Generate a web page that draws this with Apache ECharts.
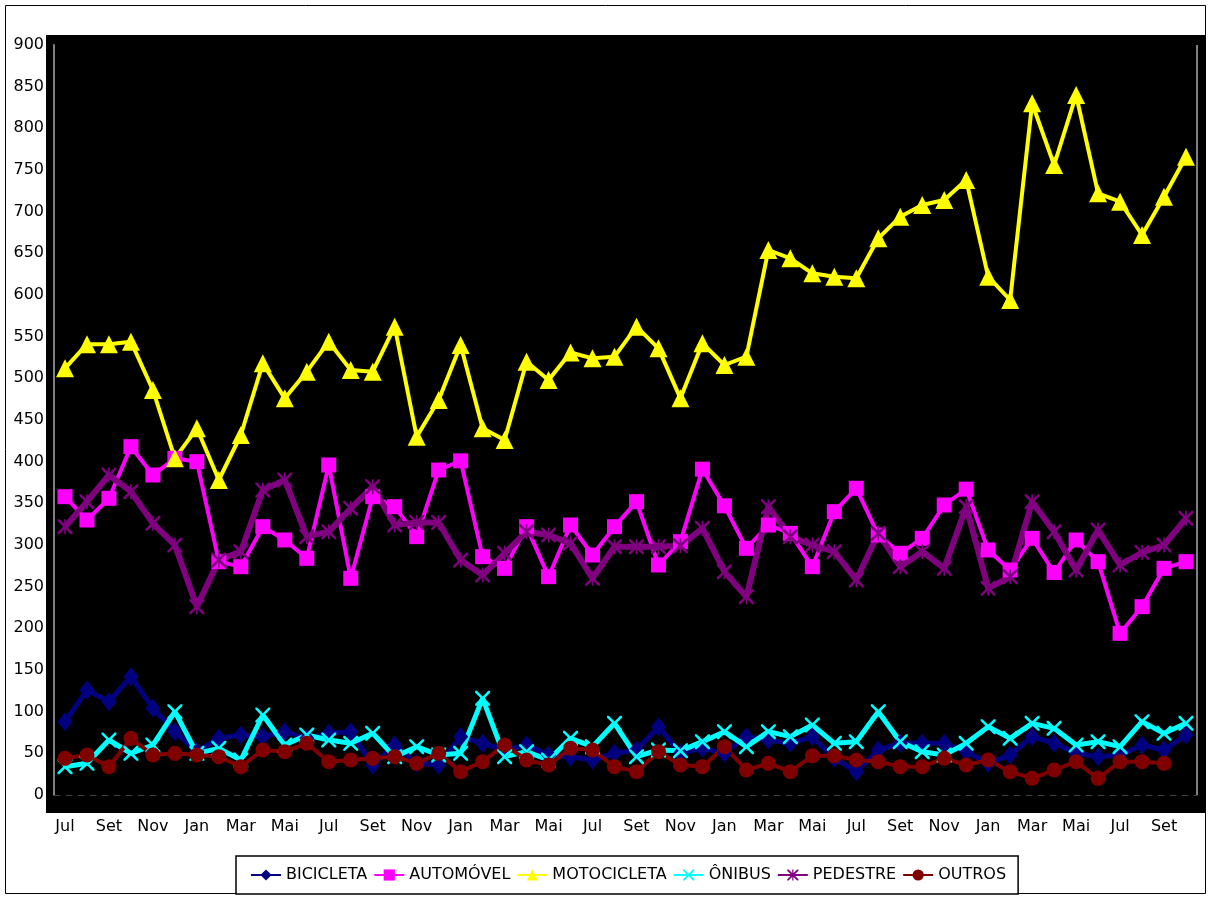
<!DOCTYPE html>
<html>
<head>
<meta charset="utf-8">
<script src="https://cdn.jsdelivr.net/npm/echarts@6/dist/echarts.min.js"></script>
<style>
  html, body { margin: 0; padding: 0; background: #fff; }
  #chart { width: 1211px; height: 899px; }
</style>
</head>
<body>
<div id="chart"></div>
<script>
// Monthly categories, July through October four years later (52 months)
const monthCycle = ['Jul','Ago','Set','Out','Nov','Dez','Jan','Fev','Mar','Abr','Mai','Jun'];
const months = [];
for (let i = 0; i < 52; i++) months.push(monthCycle[i % 12]);

const bicicleta = [88,126,112,142,104,76,52,68,72,70,76,68,74,
                   76,36,60,38,36,70,62,54,60,48,46,42,50,
                   54,82,50,56,50,70,66,62,70,44,28,54,62,
                   62,62,52,38,48,70,62,50,46,48,60,54,72];
const automovel = [358,330,356,418,384,404,400,280,274,322,306,284,396,
                   260,358,346,310,390,401,286,272,322,262,324,288,322,
                   352,276,304,391,347,296,324,314,274,340,368,312,290,
                   308,348,367,294,270,308,267,306,280,194,226,272,280];
const motocicleta = [512,541,541,544,486,404,440,378,432,518,476,508,544,
                     510,508,562,430,474,540,440,426,520,498,531,524,526,
                     562,536,476,542,516,526,654,644,626,622,620,668,694,
                     708,714,738,622,594,830,756,840,722,712,672,718,766];
const onibus = [34,38,66,50,60,100,50,56,42,96,60,72,66,
                62,74,46,58,48,50,116,46,52,42,68,58,86,
                46,54,53,64,76,58,76,70,84,62,64,100,64,
                52,48,62,82,68,86,80,60,64,58,88,74,86];
const pedestre = [322,352,384,364,326,300,226,282,292,366,378,310,316,
                  344,370,324,327,327,282,264,290,316,312,302,260,298,
                  298,298,299,320,268,238,346,310,300,292,258,314,274,
                  292,272,346,248,262,352,316,270,318,276,291,300,332];
const outros = [44,48,34,68,48,50,48,46,34,54,52,62,40,
                42,44,46,38,50,28,40,60,42,36,56,54,34,
                28,52,36,34,58,30,38,28,47,47,42,40,34,
                34,44,36,42,28,20,30,40,20,40,40,38];

const yTicks = { min: 0, max: 900, step: 50 };

const FONT = '"DejaVu Sans", sans-serif';

// thin cross and asterisk markers
const crossPath = 'path://M0,0L1.2,0L5,3.8L8.8,0L10,0L10,1.2L6.2,5L10,8.8L10,10L8.8,10L5,6.2L1.2,10L0,10L0,8.8L3.8,5L0,1.2Z';
const starPath = 'path://M0,0L1.2,0L5,3.8L8.8,0L10,0L10,1.2L6.2,5L10,8.8L10,10L8.8,10L5,6.2L1.2,10L0,10L0,8.8L3.8,5L0,1.2Z' +
                 'M4.45,0L5.55,0L5.55,10L4.45,10Z';

function lineSeries(name, data, color, symbol, symbolSize, width) {
  return {
    name: name,
    type: 'line',
    data: data,
    symbol: symbol,
    symbolSize: symbolSize,
    showAllSymbol: true,
    lineStyle: { color: color, width: width },
    itemStyle: { color: color, borderWidth: 0 },
    emphasis: { disabled: true },
    animation: false
  };
}

const chart = echarts.init(document.getElementById('chart'), null, { renderer: 'canvas' });

chart.setOption({
  backgroundColor: '#ffffff',
  animation: false,
  graphic: [
    // black chart panel behind the plot
    { type: 'rect', z: -10, silent: true,
      shape: { x: 46, y: 35, width: 1160, height: 778 },
      style: { fill: '#000000' } },
    // outer frame
    { type: 'rect', z: -20, silent: true,
      shape: { x: 5.5, y: 5.5, width: 1200, height: 888 },
      style: { fill: '#ffffff', stroke: '#000000', lineWidth: 1 } },
    // right edge of plot
    { type: 'line', z: 5, silent: true,
      shape: { x1: 1197, y1: 45, x2: 1197, y2: 795 },
      style: { stroke: '#808080', lineWidth: 2 } }
  ],
  grid: { left: 54, right: 14, top: 45, bottom: 104, containLabel: false },
  legend: {
    bottom: 5,
    left: 236,
    backgroundColor: '#ffffff',
    borderColor: '#000000',
    borderWidth: 1.5,
    borderRadius: 0,
    padding: [11, 12, 11, 14],
    itemGap: 6,
    itemWidth: 30,
    itemHeight: 14,
    textStyle: { color: '#000000', fontSize: 16, fontFamily: FONT },
    selectedMode: false
  },
  xAxis: {
    type: 'category',
    data: months,
    boundaryGap: true,
    axisLine: { show: true, lineStyle: { color: '#404040', width: 1, type: [6, 6] } },
    axisTick: { show: false },
    axisLabel: { interval: 1, color: '#000000', fontSize: 16, fontFamily: FONT, margin: 24 },
    splitLine: { show: false }
  },
  yAxis: {
    type: 'value',
    min: yTicks.min,
    max: yTicks.max,
    interval: yTicks.step,
    axisLine: { show: true, lineStyle: { color: '#808080', width: 2 } },
    axisTick: { show: false },
    axisLabel: { color: '#000000', fontSize: 16, fontFamily: FONT, margin: 10 },
    splitLine: { show: false }
  },
  series: [
    lineSeries('BICICLETA', bicicleta, '#000080', 'diamond', [15, 19], 5),
    lineSeries('AUTOMÓVEL', automovel, '#ff00ff', 'rect', 15, 4),
    lineSeries('MOTOCICLETA', motocicleta, '#ffff00', 'triangle', [18, 18], 4),
    lineSeries('ÔNIBUS', onibus, '#00ffff', crossPath, 15, 5),
    lineSeries('PEDESTRE', pedestre, '#800080', starPath, 15, 6),
    lineSeries('OUTROS', outros, '#800000', 'circle', 15, 4)
  ]
});
</script>
</body>
</html>
